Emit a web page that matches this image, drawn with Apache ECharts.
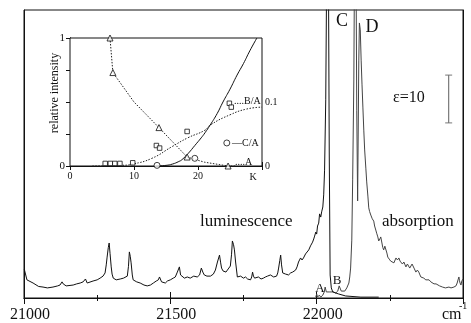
<!DOCTYPE html>
<html>
<head>
<meta charset="utf-8">
<script src="https://cdn.jsdelivr.net/npm/echarts@6/dist/echarts.min.js"></script>
<style>html,body{margin:0;padding:0;background:#fff}#c{width:471px;height:323px}</style>
</head>
<body>
<div id="c"></div>
<script>
// ---- main spectrum: wavenumber (cm-1), relative intensity (0..100 = frame height)
const luminescence = [
[21001,10.0],[21010,6.3],[21031,5.2],[21050,4.0],[21065,3.8],[21080,3.5],[21099,3.8],[21115,4.2],[21123,4.5],[21130,5.6],[21134,4.9],[21144,4.2],[21168,4.5],[21180,4.9],[21192,5.2],[21202,5.6],[21210,6.6],[21216,5.2],[21236,5.9],[21250,6.3],[21260,6.9],[21270,7.6],[21277,8.7],[21281,11.5],[21284,14.2],[21288,17.5],[21291,19.1],[21294,15.5],[21298,10.8],[21301,8.3],[21305,6.9],[21315,6.3],[21329,6.6],[21340,6.9],[21353,7.6],[21357,11.0],[21360,16.0],[21363,14.5],[21366,12.2],[21370,8.0],[21373,6.3],[21385,5.6],[21397,5.2],[21410,4.5],[21421,4.2],[21432,4.5],[21442,5.2],[21452,5.9],[21459,6.3],[21463,7.3],[21466,6.9],[21470,5.6],[21476,5.9],[21483,5.2],[21490,5.9],[21500,6.3],[21510,6.9],[21517,7.3],[21524,9.0],[21531,10.8],[21535,8.0],[21538,7.6],[21548,6.9],[21558,7.3],[21568,6.9],[21580,7.6],[21592,7.3],[21600,8.0],[21606,10.4],[21611,9.0],[21616,8.0],[21625,7.6],[21637,7.6],[21647,8.3],[21654,9.7],[21661,12.5],[21668,14.9],[21672,12.2],[21675,10.4],[21680,9.4],[21685,9.7],[21690,9.0],[21695,9.7],[21700,10.4],[21705,11.1],[21709,15.0],[21712,19.8],[21716,18.5],[21719,16.7],[21723,12.5],[21729,7.3],[21740,7.6],[21750,6.9],[21757,7.3],[21764,6.6],[21774,6.3],[21778,7.3],[21781,9.0],[21784,7.6],[21788,6.9],[21801,7.3],[21810,6.6],[21818,6.9],[21825,7.3],[21832,7.6],[21842,8.0],[21848,7.6],[21853,7.3],[21863,7.6],[21867,8.7],[21870,10.4],[21874,13.0],[21877,14.9],[21880,11.5],[21884,8.7],[21894,8.3],[21904,8.0],[21911,8.7],[21918,9.0],[21928,9.7],[21933,10.8],[21938,12.5],[21942,12.8],[21945,13.9],[21950,13.2],[21955,13.9],[21962,15.3],[21968,15.6],[21973,16.7],[21979,18.1],[21983,17.7],[21986,19.4],[21990,20.5],[21993,21.5],[21997,22.9],[22000,22.2],[22003,25.0],[22007,26.0],[22010,29.2],[22014,28.1],[22017,29.9],[22021,31.6],[22024,35.8],[22027,44.4],[22031,68.8],[22034,110],[22037,140],[22040,120],[22043,50],[22046,8.0],[22050,3.5],[22055,2.1],[22075,1.4],[22099,0.7],[22151,0.3],[22212,0.3]
];
const absorption = [
[21997,0.3],[22000,1.4],[22003,0.3],[22009,1.0],[22014,0.3],[22021,1.0],[22026,2.1],[22029,3.8],[22033,2.1],[22038,1.7],[22045,2.1],[22051,1.7],[22058,2.1],[22065,1.7],[22072,2.4],[22077,4.2],[22080,4.5],[22084,2.4],[22089,2.1],[22096,2.4],[22103,3.5],[22110,5.2],[22113,7.3],[22116,10.4],[22120,20.1],[22123,41.0],[22127,75.7],[22130,130],[22134,125],[22137,65.0],[22140,33.7],[22144,82.6],[22146,95.5],[22149,93.1],[22152,82.6],[22155,74.0],[22158,66.0],[22161,58.3],[22164,51.4],[22168,45.1],[22171,40.3],[22175,35.4],[22178,31.3],[22181,30.0],[22185,28.8],[22190,27.5],[22195,26.7],[22198,25.0],[22202,23.6],[22205,22.5],[22209,21.2],[22212,19.8],[22216,20.5],[22219,21.2],[22223,19.1],[22226,17.5],[22229,16.7],[22233,18.0],[22236,17.4],[22240,15.6],[22243,14.2],[22248,13.5],[22253,12.8],[22258,12.5],[22264,12.2],[22268,13.2],[22271,13.9],[22276,13.2],[22281,13.9],[22285,12.8],[22288,12.2],[22293,11.8],[22298,12.5],[22302,11.5],[22305,10.8],[22310,11.8],[22315,11.8],[22318,10.4],[22322,10.8],[22326,11.8],[22329,11.5],[22334,10.1],[22339,9.0],[22344,9.7],[22349,9.0],[22353,8.0],[22356,7.3],[22361,7.6],[22366,6.9],[22370,6.6],[22373,6.3],[22378,6.6],[22384,6.3],[22390,5.6],[22395,5.2],[22401,4.9],[22408,4.9],[22414,4.5],[22420,4.2],[22425,3.8],[22430,3.8],[22435,3.8],[22440,3.5],[22445,3.5],[22452,3.8],[22459,3.5],[22465,3.8],[22469,3.8],[22473,4.2],[22476,4.2],[22480,5.2],[22483,6.3],[22486,7.3],[22488,6.0],[22490,5.2],[22493,4.5],[22496,5.9],[22500,6.6]
];
const scaleBar = [[22451,60.8],[22451,77.4]];   // epsilon = 10
const mainTicks = {min: 21000, max: 22500, step: 500};

// ---- inset: temperature K vs relative intensity
const triA = [[6.25,1.0],[6.7,0.73],[13.9,0.30],[18.3,0.07],[24.7,0.0]];          // left axis
const squaresBA = [[5.5,0.004],[6.3,0.004],[7.0,0.004],[7.8,0.004],[9.8,0.005],[13.5,0.032],[14.0,0.028],[18.3,0.054],[24.9,0.098],[25.2,0.092]]; // right axis
const circlesCA = [[13.6,0.001],[19.5,0.012],[24.5,0.036]];                        // right axis
const fitBA = [[3.5,0],[8,0.001],[9.8,0.003],[12.8,0.012],[15.9,0.03],[18.4,0.044],[21.1,0.056],[21.9,0.064],[25,0.08],[27.6,0.089],[30,0.092]]; // right axis
const fitCA = [[13.5,0],[15,0.005],[16,0.015],[17,0.035],[17.5,0.05],[18.5,0.1],[19.5,0.16],[20.5,0.22],[21.1,0.26],[21.9,0.32],[23,0.41],[23.9,0.5],[25,0.6],[26.1,0.71],[27.1,0.8],[28.1,0.9],[29.2,1.0]]; // left axis
const trendA = [[6.25,1.0],[6.7,0.73],[10,0.5],[13.9,0.30],[18.3,0.07],[21,0.03],[24.7,0.0],[26,0.0]];

const SERIF = "'Liberation Serif','DejaVu Serif',serif";
const INK = '#111';

const chart = echarts.init(document.getElementById('c'), null, {renderer: 'canvas'});
const txt = (text, x, y, size, align, extra) => Object.assign({
  type: 'text', x: x, y: y, z: 100,
  style: Object.assign({text: text, fontSize: size, fontFamily: SERIF, fill: INK, align: align || 'left', verticalAlign: 'middle'}, extra || {})
});

chart.setOption({
  animation: false,
  backgroundColor: '#fff',
  grid: [
    {left: 24, right: 8, top: 10, bottom: 25, show: true, borderColor: INK, borderWidth: 1, backgroundColor: 'transparent'},
    {left: 70, top: 38, width: 192, height: 128, show: true, borderColor: INK, borderWidth: 1, backgroundColor: '#fff', z: 3}
  ],
  xAxis: [
    {gridIndex: 0, type: 'value', min: mainTicks.min, max: mainTicks.max, interval: mainTicks.step, position: 'bottom',
     axisLine: {show: true, lineStyle: {color: INK}}, splitLine: {show: false},
     axisTick: {show: true, inside: true, length: 6, lineStyle: {color: INK}},
     minorTick: {show: true, splitNumber: 2, length: 3, lineStyle: {color: INK}},
     axisLabel: {fontFamily: SERIF, fontSize: 16, color: INK, margin: 9, padding: [0,0,0,12],
       formatter: v => v === mainTicks.max ? '' : String(v)}},
    {gridIndex: 0, type: 'value', min: mainTicks.min, max: mainTicks.max, interval: mainTicks.step, position: 'top',
     axisLine: {show: true, lineStyle: {color: INK}}, splitLine: {show: false},
     axisTick: {show: true, inside: true, length: 6, lineStyle: {color: INK}},
     minorTick: {show: true, splitNumber: 2, length: 3, lineStyle: {color: INK}},
     axisLabel: {show: false}},
    {gridIndex: 1, type: 'value', min: 0, max: 30, interval: 10, position: 'bottom',
     axisLine: {show: true, lineStyle: {color: INK}}, splitLine: {show: false},
     axisTick: {show: true, inside: true, length: 4, lineStyle: {color: INK}},
     axisLabel: {fontFamily: SERIF, fontSize: 10, color: INK, margin: 5, formatter: v => v === 30 ? '' : String(v)}},
    {gridIndex: 1, type: 'value', min: 0, max: 30, interval: 10, position: 'top',
     axisLine: {show: true, lineStyle: {color: INK}}, splitLine: {show: false},
     axisTick: {show: true, inside: true, length: 4, lineStyle: {color: INK}},
     axisLabel: {show: false}}
  ],
  yAxis: [
    {gridIndex: 0, type: 'value', min: 0, max: 100, position: 'left',
     axisLine: {show: true, lineStyle: {color: INK}}, axisTick: {show: false}, axisLabel: {show: false}, splitLine: {show: false}},
    {gridIndex: 0, type: 'value', min: 0, max: 100, position: 'right',
     axisLine: {show: true, lineStyle: {color: INK}}, axisTick: {show: false}, axisLabel: {show: false}, splitLine: {show: false}},
    {gridIndex: 1, type: 'value', min: 0, max: 1, interval: 0.25, position: 'left',
     axisLine: {show: true, lineStyle: {color: INK}}, splitLine: {show: false},
     axisTick: {show: true, inside: true, length: 4, lineStyle: {color: INK}},
     axisLabel: {fontFamily: SERIF, fontSize: 11, color: INK, margin: 5,
       formatter: v => (v === 0 || v === 1) ? String(v) : ''}},
    {gridIndex: 1, type: 'value', min: 0, max: 0.2, interval: 0.05, position: 'right',
     axisLine: {show: true, lineStyle: {color: INK}}, splitLine: {show: false},
     axisTick: {show: true, inside: true, length: 4, lineStyle: {color: INK}},
     axisLabel: {fontFamily: SERIF, fontSize: 10, color: INK, margin: 3,
       formatter: v => Math.abs(v) < 1e-9 ? '0' : (Math.abs(v - 0.1) < 1e-9 ? '0.1' : '')}}
  ],
  series: [
    {name: 'luminescence', type: 'line', xAxisIndex: 0, yAxisIndex: 0, data: luminescence,
     symbol: 'none', lineStyle: {color: '#111', width: 1}, z: 5},
    {name: 'absorption', type: 'line', xAxisIndex: 0, yAxisIndex: 0, data: absorption,
     symbol: 'none', lineStyle: {color: '#444', width: 1}, z: 4},
    {name: 'scale', type: 'line', xAxisIndex: 0, yAxisIndex: 0, data: scaleBar,
     symbol: 'rect', symbolSize: [7, 1], itemStyle: {color: '#777'}, lineStyle: {color: '#777', width: 1.2}},
    {name: 'B/A fit', type: 'line', xAxisIndex: 2, yAxisIndex: 3, data: fitBA, smooth: true,
     symbol: 'none', lineStyle: {color: '#222', width: 1, type: [1.5, 1.5]}, z: 10},
    {name: 'C/A fit', type: 'line', xAxisIndex: 2, yAxisIndex: 2, data: fitCA, smooth: true,
     symbol: 'none', lineStyle: {color: '#111', width: 1}, z: 10},
    {name: 'A', type: 'line', xAxisIndex: 2, yAxisIndex: 2, data: trendA, smooth: false,
     symbol: 'none', lineStyle: {color: '#222', width: 1, type: [1.5, 1.5]}, z: 10},
    {name: 'A pts', type: 'scatter', xAxisIndex: 2, yAxisIndex: 2, data: triA, symbol: 'triangle', symbolSize: 6,
     itemStyle: {color: '#fff', borderColor: '#111', borderWidth: 1}, z: 11},
    {name: 'B/A pts', type: 'scatter', xAxisIndex: 2, yAxisIndex: 3, data: squaresBA, symbol: 'rect', symbolSize: 4.5,
     itemStyle: {color: '#fff', borderColor: '#111', borderWidth: 1}, z: 11},
    {name: 'C/A pts', type: 'scatter', xAxisIndex: 2, yAxisIndex: 3, data: circlesCA, symbol: 'circle', symbolSize: 6,
     itemStyle: {color: '#fff', borderColor: '#111', borderWidth: 1}, z: 11}
  ],
  graphic: [
    txt('luminescence', 200, 222, 17),
    txt('absorption', 382, 222, 17),
    txt('A', 320, 289, 13, 'center'),
    txt('B', 337, 281, 13, 'center'),
    txt('C', 342, 21, 18, 'center'),
    txt('D', 372, 27, 18, 'center'),
    txt('\u03b5=10', 393, 98, 16),
    txt('cm', 442, 315, 16),
    txt('-1', 459, 306, 10),
    Object.assign(txt('relative intensity', 0, 0, 12, 'center'), {x: 55, y: 93, rotation: Math.PI / 2}),
    txt('K', 253, 177, 10, 'center'),
    txt('....B/A', 234, 101, 10),
    txt('\u2014C/A', 232, 143, 10),
    txt('....A', 235, 162, 10)
  ]
});
</script>
</body>
</html>
